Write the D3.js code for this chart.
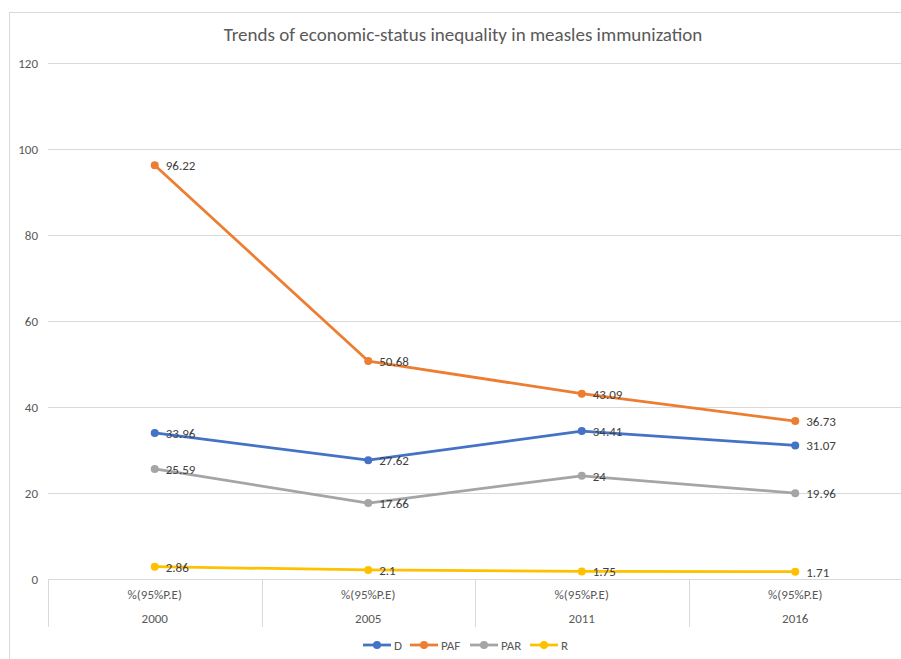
<!DOCTYPE html>
<html>
<head>
<meta charset="utf-8">
<script src="https://cdn.jsdelivr.net/npm/d3@7"></script>
<style>
  body { margin: 0; background: #fff; }
  text { font-family: Calibri, Carlito, Lato, "Open Sans", sans-serif; }
</style>
</head>
<body>
<script>
// data
var years = ["2000", "2005", "2011", "2016"];
var subLabel = "%(95%P.E)";
var seriesNames = ["D", "PAF", "PAR", "R"];
var seriesColors = ["#4472C4", "#ED7D31", "#A5A5A5", "#FFC000"];
var D = [33.96, 27.62, 34.41, 31.07];
var PAF = [96.22, 50.68, 43.09, 36.73];
var PAR = [25.59, 17.66, 24, 19.96];
var R = [2.86, 2.1, 1.75, 1.71];
var yTicks = [0, 20, 40, 60, 80, 100, 120];

var width = 901, height = 659;
var margin = { top: 63, right: -1, bottom: 80, left: 48 };

var svg = d3.select("body").append("svg")
    .attr("width", width)
    .attr("height", height);

// chart border (partly outside the picture)
svg.append("rect")
    .attr("x", 9.5).attr("y", 12.5)
    .attr("width", 1000).attr("height", 1000)
    .attr("fill", "none")
    .attr("stroke", "#D9D9D9");

svg.append("text")
    .attr("x", 463).attr("y", 41)
    .attr("text-anchor", "middle")
    .attr("font-size", 19)
    .attr("fill", "#595959")
    .text("Trends of economic-status inequality in measles immunization");

var x = d3.scaleBand()
    .domain(years)
    .range([margin.left, width - margin.right]);

var y = d3.scaleLinear()
    .domain([0, 120])
    .range([height - margin.bottom, margin.top]);

// gridlines
svg.append("g")
    .selectAll("line")
    .data(yTicks)
    .join("line")
    .attr("x1", margin.left).attr("x2", width)
    .attr("y1", d => Math.round(y(d)) + 0.5)
    .attr("y2", d => Math.round(y(d)) + 0.5)
    .attr("stroke", "#D9D9D9")
    .attr("stroke-width", 1);

// y labels
svg.append("g")
    .selectAll("text")
    .data(yTicks)
    .join("text")
    .attr("x", 38)
    .attr("y", d => y(d) + 4.5)
    .attr("text-anchor", "end")
    .attr("font-size", 13)
    .attr("fill", "#595959")
    .text(d => d);

// category dividers
var y0 = Math.round(y(0));
svg.append("g")
    .selectAll("line")
    .data(years)
    .join("line")
    .attr("x1", d => Math.round(x(d)) + 0.5)
    .attr("x2", d => Math.round(x(d)) + 0.5)
    .attr("y1", y0).attr("y2", y0 + 48)
    .attr("stroke", "#D9D9D9");

var cat = svg.append("g")
    .selectAll("g")
    .data(years)
    .join("g")
    .attr("transform", d => "translate(" + (x(d) + x.bandwidth() / 2) + ",0)");

cat.append("text")
    .attr("y", y0 + 20)
    .attr("text-anchor", "middle")
    .attr("font-size", 13)
    .attr("fill", "#595959")
    .text(subLabel);

cat.append("text")
    .attr("y", y0 + 44)
    .attr("text-anchor", "middle")
    .attr("font-size", 13)
    .attr("fill", "#595959")
    .text(d => d);

var allSeries = [D, PAF, PAR, R];

var line = d3.line()
    .x((d, i) => x(years[i]) + x.bandwidth() / 2)
    .y(d => y(d));

allSeries.forEach(function(vals, k) {
    var g = svg.append("g");
    g.append("path")
        .datum(vals)
        .attr("d", line)
        .attr("fill", "none")
        .attr("stroke", seriesColors[k])
        .attr("stroke-width", 2.75)
        .attr("stroke-linejoin", "round");
    g.selectAll("circle")
        .data(vals)
        .join("circle")
        .attr("cx", (d, i) => x(years[i]) + x.bandwidth() / 2)
        .attr("cy", d => y(d))
        .attr("r", 4)
        .attr("fill", seriesColors[k]);
    g.selectAll("text")
        .data(vals)
        .join("text")
        .attr("x", (d, i) => x(years[i]) + x.bandwidth() / 2 + 11)
        .attr("y", d => y(d) + 5)
        .attr("font-size", 13)
        .attr("fill", "#404040")
        .text(d => d);
});

// legend
var legendX = [363, 410, 470, 530];
var leg = svg.append("g")
    .selectAll("g")
    .data(seriesNames)
    .join("g")
    .attr("transform", (d, i) => "translate(" + legendX[i] + ",645)");

leg.append("line")
    .attr("x1", 0).attr("x2", 28)
    .attr("stroke", (d, i) => seriesColors[i])
    .attr("stroke-width", 2.75);
leg.append("circle")
    .attr("cx", 14).attr("r", 4)
    .attr("fill", (d, i) => seriesColors[i]);
leg.append("text")
    .attr("x", 31).attr("y", 4.5)
    .attr("font-size", 13)
    .attr("fill", "#595959")
    .text(d => d);
</script>
</body>
</html>
